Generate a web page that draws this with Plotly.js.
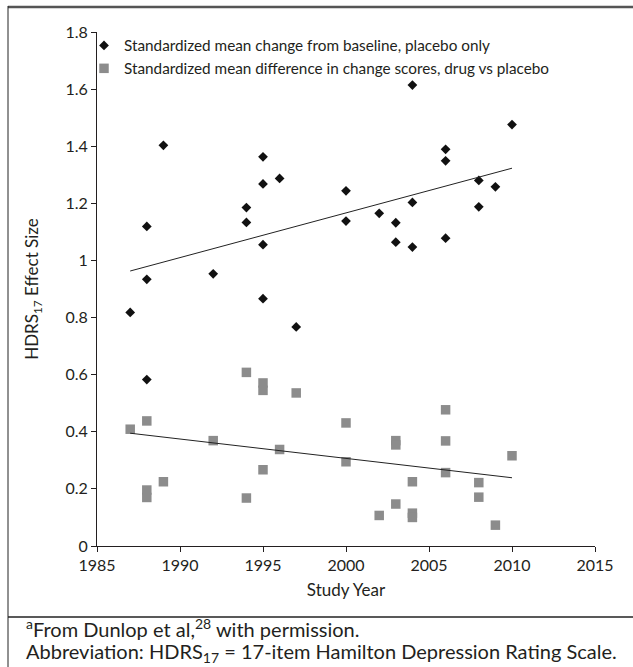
<!DOCTYPE html>
<html>
<head>
<meta charset="utf-8">
<script src="https://cdn.plot.ly/plotly-3.0.1.min.js"></script>
<style>html,body{margin:0;padding:0;background:#fff;} #chart{width:633px;height:667px;}</style>
</head>
<body>
<div id="chart"></div>
<script>
// Standardized mean change from baseline, placebo only (black diamonds)
var placeboYears  = [1987, 1988, 1988, 1988, 1989, 1992, 1994, 1994, 1995, 1995, 1995, 1995, 1996, 1997, 2000, 2000, 2002, 2003, 2003, 2004, 2004, 2004, 2006, 2006, 2006, 2008, 2008, 2009, 2010];
var placeboEffect = [0.818, 1.119, 0.934, 0.583, 1.403, 0.953, 1.185, 1.133, 1.363, 1.268, 1.055, 0.866, 1.287, 0.767, 1.244, 1.138, 1.165, 1.132, 1.064, 1.614, 1.203, 1.047, 1.389, 1.349, 1.078, 1.280, 1.188, 1.258, 1.476];

// Standardized mean difference in change scores, drug vs placebo (gray squares)
var diffYears  = [1987, 1988, 1988, 1988, 1989, 1992, 1994, 1994, 1995, 1995, 1995, 1996, 1997, 2000, 2000, 2002, 2003, 2003, 2003, 2004, 2004, 2004, 2006, 2006, 2006, 2008, 2008, 2009, 2010];
var diffEffect = [0.409, 0.438, 0.196, 0.170, 0.225, 0.369, 0.608, 0.168, 0.571, 0.545, 0.267, 0.338, 0.536, 0.431, 0.295, 0.107, 0.369, 0.354, 0.147, 0.225, 0.115, 0.100, 0.477, 0.368, 0.257, 0.222, 0.171, 0.073, 0.316];

// Linear trend lines (endpoints)
var trendYears   = [1987, 2010];
var placeboTrend = [0.963, 1.323];
var diffTrend    = [0.395, 0.239];

var seriesNames = ["Standardized mean change from baseline, placebo only",
                   "Standardized mean difference in change scores, drug vs placebo"];

var xTickVals = [1985, 1990, 1995, 2000, 2005, 2010, 2015];
var yTickVals = [0, 0.2, 0.4, 0.6, 0.8, 1, 1.2, 1.4, 1.6, 1.8];
var yTickText = ["0", "0.2", "0.4", "0.6", "0.8", "1", "1.2", "1.4", "1.6", "1.8"];

var FONT = "Lato, 'Open Sans', sans-serif";
var INK = "#231f20";

var traces = [
  {x: placeboYears, y: placeboEffect, type: "scatter", mode: "markers", name: seriesNames[0],
   marker: {symbol: "diamond", size: 7.5, color: "#111111"}, cliponaxis: false},
  {x: diffYears, y: diffEffect, type: "scatter", mode: "markers", name: seriesNames[1],
   marker: {symbol: "square", size: 9.5, color: "#8c8c8c"}, cliponaxis: false},
  {x: trendYears, y: placeboTrend, type: "scatter", mode: "lines", showlegend: false,
   line: {color: "#222222", width: 1}, hoverinfo: "skip"},
  {x: trendYears, y: diffTrend, type: "scatter", mode: "lines", showlegend: false,
   line: {color: "#222222", width: 1}, hoverinfo: "skip"}
];

// pixel -> paper helpers (plot area: x 97..595, y 32..546)
function px(v){ return (v - 97) / 498; }
function py(v){ return (546 - v) / 514; }

var layout = {
  width: 633, height: 667,
  margin: {l: 97, r: 38, t: 32, b: 121, pad: 0},
  paper_bgcolor: "#ffffff", plot_bgcolor: "#ffffff",
  font: {family: FONT, color: INK, size: 16},
  showlegend: true,
  legend: {x: px(84), y: py(29), xanchor: "left", yanchor: "top",
           font: {family: FONT, size: 15.3, color: INK}, bgcolor: "rgba(0,0,0,0)",
           itemwidth: 30, tracegroupgap: 0},
  xaxis: {range: [1985, 2015], tickvals: xTickVals, ticks: "outside", ticklen: 5, tickwidth: 1,
          tickcolor: INK, showline: true, linecolor: INK, linewidth: 1, showgrid: false, zeroline: false,
          tickfont: {size: 16, family: FONT, color: INK}, fixedrange: true,
          title: {text: "Study Year", font: {size: 17, family: FONT, color: INK}, standoff: 10}},
  yaxis: {range: [0, 1.8], tickvals: yTickVals, ticktext: yTickText, ticks: "outside", ticklen: 5, tickwidth: 1,
          tickcolor: INK, showline: true, linecolor: INK, linewidth: 1, showgrid: false, zeroline: false,
          tickfont: {size: 16, family: FONT, color: INK}, fixedrange: true,
          title: {text: "HDRS<sub>17</sub> Effect Size", font: {size: 17, family: FONT, color: INK}, standoff: 22}},
  shapes: [
    {type: "line", xref: "paper", yref: "paper", x0: px(8), x1: px(640), y0: py(7), y1: py(7),
     line: {color: "#555555", width: 2.5}},
    {type: "line", xref: "paper", yref: "paper", x0: px(8), x1: px(8), y0: py(6), y1: py(670),
     line: {color: "#222222", width: 1}},
    {type: "line", xref: "paper", yref: "paper", x0: px(8), x1: px(640), y0: py(617), y1: py(617),
     line: {color: "#222222", width: 1.5}}
  ],
  annotations: [
    {xref: "paper", yref: "paper", x: px(24), y: py(628), xanchor: "left", yanchor: "middle", showarrow: false,
     text: "<sup>a</sup>From Dunlop et al,<sup>28</sup> with permission.", font: {size: 20, family: FONT, color: INK}},
    {xref: "paper", yref: "paper", x: px(24), y: py(652), xanchor: "left", yanchor: "middle", showarrow: false,
     text: "Abbreviation: HDRS<sub>17</sub> = 17-item Hamilton Depression Rating Scale.", font: {size: 20, family: FONT, color: INK}}
  ]
};

Plotly.newPlot("chart", traces, layout, {displayModeBar: false, staticPlot: true});
</script>
</body>
</html>
